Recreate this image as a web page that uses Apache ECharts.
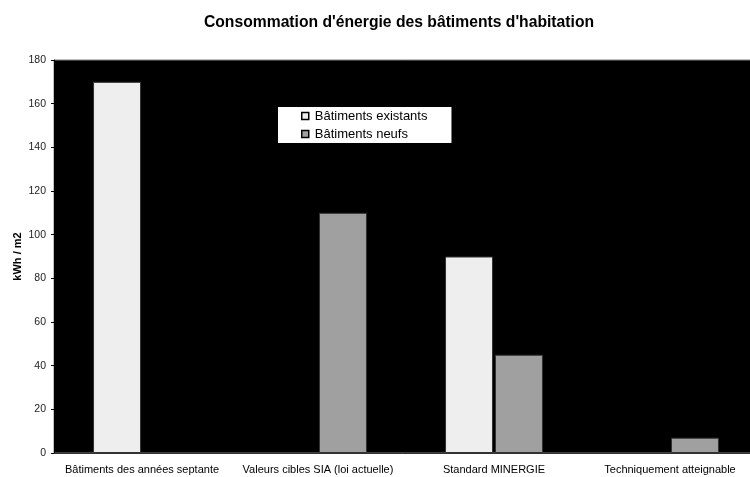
<!DOCTYPE html>
<html>
<head>
<meta charset="utf-8">
<script src="https://cdn.jsdelivr.net/npm/echarts@6/dist/echarts.min.js"></script>
<style>
  html, body { margin: 0; padding: 0; background: #fff; }
  #chart { width: 750px; height: 477px; }
</style>
</head>
<body>
<div id="chart"></div>
<script>
// Energy use of residential buildings (kWh per m2 and year)
const categories = [
  'Bâtiments des années septante',
  'Valeurs cibles SIA (loi actuelle)',
  'Standard MINERGIE',
  'Techniquement atteignable'
];
const seriesNames = ['Bâtiments existants', 'Bâtiments neufs'];
const existingValues = [170, null, 90, null];
const newValues = [null, 110, 45, 7];
const yTicks = [0, 20, 40, 60, 80, 100, 120, 140, 160, 180];

const chart = echarts.init(document.getElementById('chart'), null, { renderer: 'canvas' });
const font = 'Arial, "Liberation Sans", sans-serif';

chart.setOption({
  backgroundColor: '#ffffff',
  animation: false,
  title: {
    text: "Consommation d'énergie des bâtiments d'habitation",
    left: 394,
    top: 10,
    textAlign: 'center',
    textStyle: { fontFamily: font, fontSize: 15.7, fontWeight: 'bold', color: '#000' }
  },
  legend: {
    data: seriesNames,
    orient: 'vertical',
    left: 278,
    top: 107,
    backgroundColor: '#ffffff',
    padding: [2, 24, 2, 23],
    itemGap: 4,
    itemWidth: 7,
    itemHeight: 7,
    icon: 'rect',
    itemStyle: { borderColor: '#000', borderWidth: 1.5 },
    textStyle: { fontFamily: font, fontSize: 13, color: '#000', lineHeight: 14, padding: [0, 0, 0, 1] }
  },
  grid: {
    left: 54,
    top: 60,
    width: 704,
    bottom: 24,
    outerBoundsMode: 'none',
    containLabel: false,
    show: true,
    backgroundColor: '#000000',
    borderColor: '#808080',
    borderWidth: 1
  },
  xAxis: {
    type: 'category',
    data: categories,
    axisLine: { show: true, lineStyle: { color: '#333', width: 1 } },
    axisTick: { show: false },
    axisLabel: { fontFamily: font, fontSize: 11, color: '#000', margin: 11, interval: 0 }
  },
  yAxis: {
    type: 'value',
    min: 0,
    max: 180,
    interval: 20,
    name: 'kWh / m2',
    nameLocation: 'middle',
    nameGap: 31,
    nameMoveOverlap: false,
    nameRotate: 90,
    nameTextStyle: { fontFamily: font, fontSize: 11, fontWeight: 'bold', color: '#000' },
    axisLine: { show: true, lineStyle: { color: '#000', width: 1 } },
    axisTick: { show: true, length: 3, lineStyle: { color: '#000' } },
    splitLine: { show: false },
    axisLabel: {
      fontFamily: font, fontSize: 10.5, color: '#222', margin: 8,
      formatter: v => (yTicks.indexOf(v) >= 0 ? String(v) : '')
    }
  },
  series: [
    {
      name: seriesNames[0],
      type: 'bar',
      data: existingValues,
      barWidth: 48,
      barGap: '4%',
      itemStyle: { color: '#eeeeee', borderColor: '#333333', borderWidth: 1 }
    },
    {
      name: seriesNames[1],
      type: 'bar',
      data: newValues,
      barWidth: 48,
      barGap: '4%',
      itemStyle: { color: '#a0a0a0', borderColor: '#333333', borderWidth: 1 }
    }
  ]
});
</script>
</body>
</html>
